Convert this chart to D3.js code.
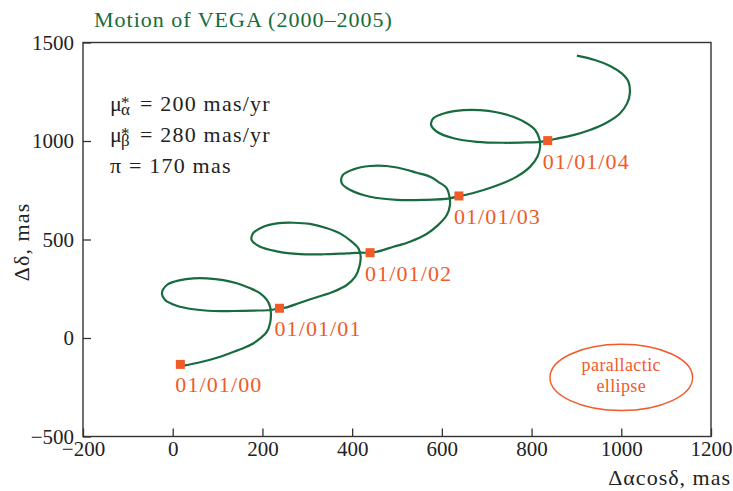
<!DOCTYPE html>
<html>
<head>
<meta charset="utf-8">
<script src="https://cdn.jsdelivr.net/npm/d3@7"></script>
<style>
    body { margin: 0; background: #fff; }
    text { font-family: "Liberation Serif", "Times New Roman", serif; }
</style>
</head>
<body>
<div id="chart"></div>
<script>
// axis ticks
var xTicks = [-200, 0, 200, 400, 600, 800, 1000, 1200];
var yTicks = [-500, 0, 500, 1000, 1500];

// apparent path of the star (mas)
var pathX = [24, 61, 106, 143, 173, 195, 210, 217, 219, 217, 210, 195, 173, 143, 113, 76, 46, 17, -13, -24, -17, 9, 46, 91, 135, 180, 217, 238,
    251, 284, 321, 358, 388, 407, 416, 419, 414, 399, 373, 344, 306, 269, 232, 202, 179, 176, 195, 232, 284, 336, 388, 418, 440,
    455, 492, 529, 566, 592, 611, 618, 617, 611, 592, 574, 544, 514, 477, 440, 403, 379, 377, 396, 440, 500, 559, 618, 638,
    652, 693, 730, 767, 797, 813, 819, 817, 808, 789, 759, 722, 685, 648, 611, 581, 576, 589, 626, 678, 737, 789, 819, 836,
    852, 893, 930, 967, 997, 1013, 1019, 1016, 1001, 975, 941, 901];
var pathY = [-140, -123, -95, -64, -36, -2, 32, 75, 125, 159, 193, 227, 252, 278, 294, 303, 303, 294, 269, 227, 193, 164, 146, 137, 137, 139, 142, 151,
    154, 179, 207, 235, 269, 311, 362, 413, 455, 489, 531, 557, 579, 585, 582, 565, 531, 497, 463, 440, 426, 425, 430, 433, 433,
    438, 463, 489, 528, 574, 624, 675, 717, 760, 793, 819, 839, 858, 873, 873, 856, 827, 785, 751, 717, 701, 701, 709, 721,
    726, 751, 780, 819, 870, 920, 971, 1014, 1056, 1090, 1123, 1146, 1157, 1157, 1144, 1115, 1081, 1047, 1014, 996, 991, 993, 996, 1002,
    1010, 1030, 1056, 1093, 1140, 1191, 1242, 1301, 1343, 1381, 1411, 1433];

// yearly positions
var dates = ["01/01/00", "01/01/01", "01/01/02", "01/01/03", "01/01/04"];
var markX = [17, 238, 440, 638, 836];
var markY = [-134, 151, 433, 721, 1002];

// parallactic ellipse (centre and semi-axes, mas)
var ellipseCenter = [1000, -200];
var ellipseRadii = [159, 168];

var green = "#176b3c",
    orange = "#f15a29",
    axisColor = "#333",
    serif = "\"Liberation Serif\", \"Times New Roman\", serif";

var width = 733, height = 491;
var margin = {left: 83, right: 22, top: 42.5, bottom: 54.5};

var svg = d3.select("#chart").append("svg")
    .attr("width", width)
    .attr("height", height)
    .style("font-family", serif);

var x = d3.scaleLinear().domain([-200, 1200]).range([margin.left, width - margin.right]);
var y = d3.scaleLinear().domain([-500, 1500]).range([height - margin.bottom, margin.top]);

// title
svg.append("text")
    .attr("x", 94).attr("y", 27)
    .attr("fill", green)
    .style("font-size", "22px")
    .style("letter-spacing", "1px")
    .text("Motion of VEGA (2000–2005)");

// axes
var fmt = function (d) { return d < 0 ? "−" + (-d) : String(d); };
var xAxis = d3.axisBottom(x).tickValues(xTicks).tickFormat(fmt)
    .tickSizeInner(-8).tickSizeOuter(0).tickPadding(5);
var yAxis = d3.axisLeft(y).tickValues(yTicks).tickFormat(fmt)
    .tickSizeInner(-8).tickSizeOuter(0).tickPadding(9);

var gx = svg.append("g")
    .attr("transform", "translate(0," + y(-500) + ")")
    .call(xAxis);
var gy = svg.append("g")
    .attr("transform", "translate(" + x(-200) + ",0)")
    .call(yAxis);

[gx, gy].forEach(function (g) {
    g.attr("font-family", null).attr("font-size", null);
    g.select(".domain").remove();
    g.selectAll(".tick line").attr("stroke", axisColor).attr("stroke-width", 1.3);
    g.selectAll(".tick text")
        .attr("fill", "#222")
        .style("font-family", serif)
        .style("font-size", "21px");
});

svg.append("rect")
    .attr("x", x(-200)).attr("y", y(1500))
    .attr("width", x(1200) - x(-200))
    .attr("height", y(-500) - y(1500))
    .attr("fill", "none")
    .attr("stroke", axisColor)
    .attr("stroke-width", 1.4);

// axis titles
svg.append("text")
    .attr("x", 731).attr("y", 485)
    .attr("text-anchor", "end")
    .attr("fill", "#222")
    .style("font-size", "22px")
    .style("letter-spacing", "1px")
    .text("Δαcosδ, mas");

svg.append("text")
    .attr("transform", "translate(28.5,242)rotate(-90)")
    .attr("text-anchor", "middle")
    .attr("fill", "#222")
    .style("font-size", "22px")
    .style("letter-spacing", "1.1px")
    .text("Δδ, mas");

// parameters
function muLine(yBase, sub, rest) {
    var t = svg.append("text").attr("x", 110).attr("y", yBase).attr("fill", "#222")
        .style("font-size", "22px");
    t.append("tspan").text("μ");
    t.append("tspan").attr("x", 121).attr("y", yBase - 3).style("font-size", "17px").text("*");
    t.append("tspan").attr("x", 121).attr("y", yBase + 4).style("font-size", "17px").text(sub);
    t.append("tspan").attr("x", 140).attr("y", yBase).style("letter-spacing", "1.2px").text(rest);
}
muLine(111, "α", "= 200 mas/yr");
muLine(142, "β", "= 280 mas/yr");
svg.append("text").attr("x", 110).attr("y", 173).attr("fill", "#222")
    .style("font-size", "22px").style("letter-spacing", "1.2px")
    .text("π = 170 mas");

// path of the star
var line = d3.line()
    .x(function (d) { return x(d[0]); })
    .y(function (d) { return y(d[1]); })
    .curve(d3.curveCatmullRom.alpha(0.5));

svg.append("path")
    .datum(d3.zip(pathX, pathY))
    .attr("d", line)
    .attr("fill", "none")
    .attr("stroke", green)
    .attr("stroke-width", 2.2);

// yearly markers
var marks = d3.zip(dates, markX, markY);
svg.selectAll(".mark")
    .data(marks)
    .enter().append("rect")
    .attr("class", "mark")
    .attr("x", function (d) { return x(d[1]) - 4.5; })
    .attr("y", function (d) { return y(d[2]) - 4.5; })
    .attr("width", 9).attr("height", 9)
    .attr("fill", orange);

svg.selectAll(".mark-label")
    .data(marks)
    .enter().append("text")
    .attr("class", "mark-label")
    .attr("x", function (d) { return x(d[1]) - 5; })
    .attr("y", function (d) { return y(d[2]) + 28; })
    .attr("fill", orange)
    .style("font-size", "22px")
    .style("letter-spacing", "1.1px")
    .text(function (d) { return d[0]; });

// parallactic ellipse
var ecx = x(ellipseCenter[0]), ecy = y(ellipseCenter[1]);
svg.append("ellipse")
    .attr("cx", ecx).attr("cy", ecy)
    .attr("rx", x(ellipseRadii[0]) - x(0))
    .attr("ry", y(0) - y(ellipseRadii[1]))
    .attr("fill", "none")
    .attr("stroke", orange)
    .attr("stroke-width", 1.4);

svg.append("text")
    .attr("x", ecx).attr("y", ecy - 6)
    .attr("text-anchor", "middle")
    .attr("fill", orange)
    .style("font-size", "18px")
    .style("letter-spacing", "0.4px")
    .text("parallactic");
svg.append("text")
    .attr("x", ecx).attr("y", ecy + 15)
    .attr("text-anchor", "middle")
    .attr("fill", orange)
    .style("font-size", "18px")
    .style("letter-spacing", "0.4px")
    .text("ellipse");
</script>
</body>
</html>
